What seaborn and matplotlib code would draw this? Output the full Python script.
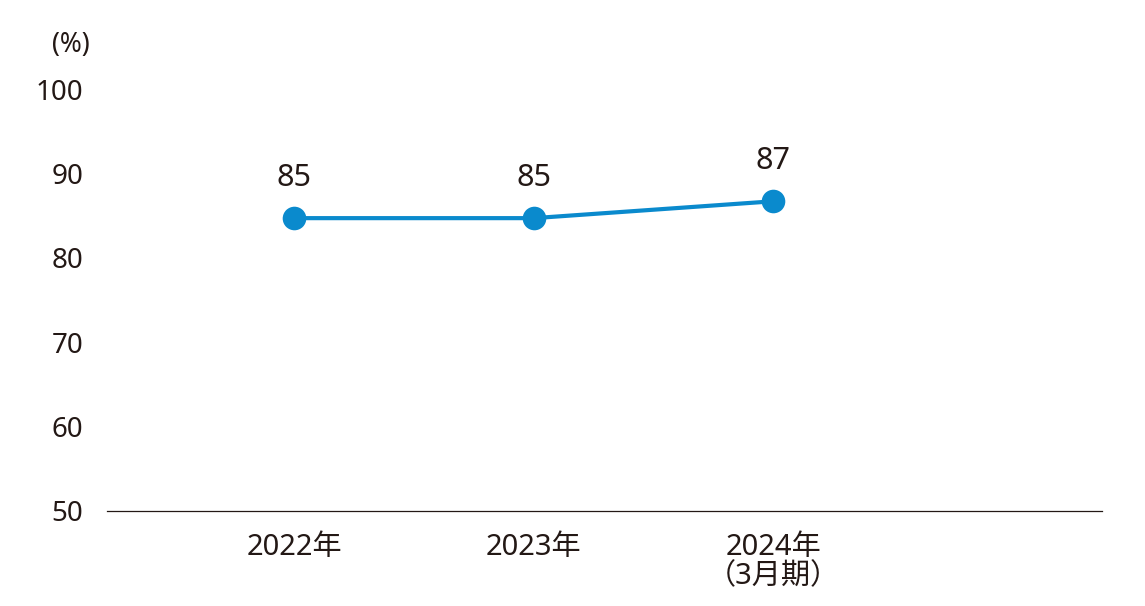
import pandas as pd
import matplotlib.pyplot as plt
import seaborn as sns

sns.set_style("white")
plt.rcParams['font.family'] = ['Noto Sans', 'Noto Sans CJK JP', 'DejaVu Sans']

# データ
年度 = ["2022年", "2023年", "2024年\n（3月期）"]
値 = [84.7, 84.7, 86.7]
ラベル = ["85", "85", "87"]
y_ticks = [50, 60, 70, 80, 90, 100]

df = pd.DataFrame({"x": range(len(年度)), "値": 値})

fig = plt.figure(figsize=(11.45, 6.06), dpi=100)
ax = fig.add_axes([0.0934, 0.1568, 0.869, 0.6963])

sns.lineplot(data=df, x="x", y="値", ax=ax, color="#0a8acd", linewidth=3,
             marker="o", markersize=17, markeredgewidth=0, clip_on=False)

for x, y, t in zip(df["x"], df["値"], ラベル):
    ax.annotate(t, (x, y), xytext=(0, 18), textcoords="offset points",
                ha="center", va="bottom", fontsize=22, color="#231815")

ax.set_xlim(-0.78, 3.37)
ax.set_ylim(50, 100)
ax.set_xticks(df["x"])
ax.set_xticklabels(年度, fontsize=21, color="#231815", linespacing=1.0, va="top")
ax.set_yticks(y_ticks)
ax.set_yticklabels([str(v) for v in y_ticks], fontsize=20, color="#231815")
ax.tick_params(axis="y", length=0, pad=17)
ax.tick_params(axis="x", length=0, pad=16)
ax.set_xlabel("")
ax.set_ylabel("")

for s in ["top", "right", "left"]:
    ax.spines[s].set_visible(False)
ax.spines["bottom"].set_color("#231815")
ax.spines["bottom"].set_linewidth(0.9)

fig.text(0.062, 0.925, "(%)", fontsize=19, color="#231815", ha="center", va="center")

fig.savefig("out.png", dpi=100)
